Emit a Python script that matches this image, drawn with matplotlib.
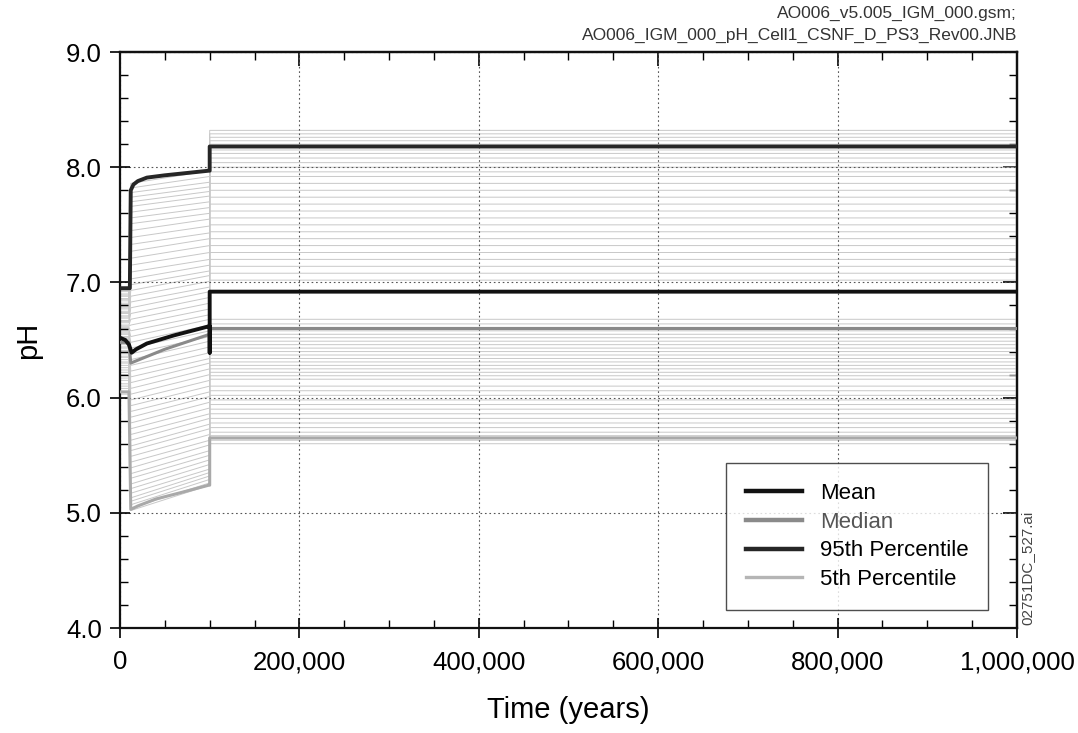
import matplotlib
matplotlib.use("Agg")
import matplotlib.pyplot as plt
from matplotlib.ticker import MultipleLocator, FuncFormatter
from matplotlib.lines import Line2D

plt.rcParams['font.family'] = ['Liberation Sans', 'DejaVu Sans']

# ---------------- data ----------------
# realization time nodes (years)
t_nodes = [0, 10000, 12000, 100000, 100000, 1000000]
# realization values: start level, after early drop/jump, at 100k, final
r_start = [6.03, 6.05, 6.08, 6.10, 6.12, 6.15, 6.17, 6.20, 6.22, 6.24,
           6.26, 6.28, 6.30, 6.31, 6.33, 6.35, 6.36, 6.38, 6.40, 6.41,
           6.43, 6.44, 6.46, 6.47, 6.49, 6.50, 6.51, 6.52, 6.53, 6.55,
           6.56, 6.57, 6.58, 6.60, 6.61, 6.62, 6.63, 6.65, 6.66, 6.67,
           6.69, 6.70, 6.71, 6.73, 6.74, 6.75, 6.77, 6.78, 6.79, 6.81,
           6.82, 6.84, 6.85, 6.86, 6.88, 6.89, 6.90, 6.92, 6.93, 6.95]
r_early = [5.02, 5.04, 5.07, 5.10, 5.13, 5.17, 5.21, 5.25, 5.30, 5.34,
           5.39, 5.44, 5.49, 5.54, 5.58, 5.63, 5.68, 5.73, 5.78, 5.83,
           5.88, 5.93, 5.98, 6.03, 6.08, 6.13, 6.18, 6.23, 6.28, 6.33,
           6.38, 6.43, 6.48, 6.53, 6.58, 6.63, 6.68, 6.73, 6.78, 6.83,
           6.88, 6.93, 6.98, 7.03, 7.09, 7.15, 7.21, 7.27, 7.33, 7.39,
           7.45, 7.51, 7.56, 7.61, 7.66, 7.70, 7.74, 7.78, 7.82, 7.86]
r_late = [5.24, 5.26, 5.29, 5.32, 5.35, 5.38, 5.42, 5.46, 5.50, 5.54,
          5.59, 5.63, 5.68, 5.73, 5.77, 5.82, 5.86, 5.91, 5.96, 6.01,
          6.05, 6.10, 6.15, 6.20, 6.25, 6.30, 6.34, 6.39, 6.44, 6.49,
          6.53, 6.58, 6.63, 6.68, 6.72, 6.77, 6.82, 6.87, 6.92, 6.96,
          7.01, 7.06, 7.10, 7.15, 7.20, 7.26, 7.32, 7.38, 7.43, 7.49,
          7.55, 7.60, 7.65, 7.70, 7.75, 7.79, 7.83, 7.87, 7.92, 7.97]
r_final = [5.60, 5.63, 5.65, 5.67, 5.70, 5.74, 5.78, 5.82, 5.86, 5.90,
           5.94, 5.98, 6.02, 6.06, 6.10, 6.16, 6.19, 6.22, 6.25, 6.28,
           6.31, 6.34, 6.37, 6.40, 6.43, 6.46, 6.49, 6.52, 6.55, 6.58,
           6.61, 6.64, 6.68, 7.02, 7.08, 7.14, 7.20, 7.26, 7.32, 7.38,
           7.44, 7.50, 7.56, 7.62, 7.68, 7.74, 7.80, 7.86, 7.92, 7.96,
           8.00, 8.04, 8.08, 8.12, 8.15, 8.20, 8.23, 8.26, 8.29, 8.32]

# statistics
t_mean = [0, 6000, 10000, 13000, 18000, 30000, 60000, 99500, 100000, 100000, 100000, 1000000]
v_mean = [6.52, 6.50, 6.46, 6.39, 6.42, 6.47, 6.54, 6.62, 6.62, 6.39, 6.92, 6.92]

t_median = [0, 10000, 12000, 50000, 100000, 100000, 1000000]
v_median = [6.48, 6.48, 6.30, 6.42, 6.55, 6.60, 6.60]

t_p95 = [0, 11000, 12000, 15000, 20000, 30000, 50000, 99000, 100000, 100000, 1000000]
v_p95 = [6.95, 6.95, 7.80, 7.85, 7.88, 7.91, 7.93, 7.97, 7.97, 8.18, 8.18]

t_p5 = [0, 10000, 12000, 20000, 40000, 70000, 99000, 100000, 100000, 1000000]
v_p5 = [6.05, 6.05, 5.03, 5.06, 5.12, 5.18, 5.24, 5.24, 5.65, 5.65]

x_ticks = [0, 200000, 400000, 600000, 800000, 1000000]
y_ticks = [4.0, 5.0, 6.0, 7.0, 8.0, 9.0]
legend_labels = ["Mean", "Median", "95th Percentile", "5th Percentile"]

# ---------------- figure ----------------
fig = plt.figure(figsize=(10.78, 7.33), dpi=100)
ax = fig.add_axes([0.1113, 0.1432, 0.8321, 0.7858])

for s, e, l, f in zip(r_start, r_early, r_late, r_final):
    ax.plot(t_nodes, [s, s, e, l, f, f], color='#c8c8c8', lw=0.7, zorder=1)

ax.plot(t_p5, v_p5, color='#a9a9a9', lw=2.2, zorder=3)
ax.plot(t_median, v_median, color='#8a8a8a', lw=2.2, zorder=3)
ax.plot(t_p95, v_p95, color='#262626', lw=2.8, zorder=4)
ax.plot(t_mean, v_mean, color='#111111', lw=2.8, zorder=5)

ax.set_xlim(0, 1000000)
ax.set_ylim(4.0, 9.0)
ax.set_xticks(x_ticks)
ax.set_yticks(y_ticks)
ax.xaxis.set_minor_locator(MultipleLocator(50000))
ax.yaxis.set_minor_locator(MultipleLocator(0.2))
ax.xaxis.set_major_formatter(FuncFormatter(lambda v, p: f"{int(v):,}"))
ax.yaxis.set_major_formatter(FuncFormatter(lambda v, p: f"{v:.1f}"))

ax.grid(True, which='major', color='#555555', lw=0.8, ls=(0, (1.5, 2.5)), zorder=2)

ax.tick_params(which='major', direction='inout', length=14, width=1.2,
               labelsize=18.5, colors='black', pad=6)
ax.tick_params(which='minor', direction='in', length=6, width=1.0)
ax.tick_params(which='both', top=False, right=False)
ax.tick_params(axis='x', which='major', pad=9)

# right and top ticks pointing inward only
secy = ax.secondary_yaxis('right')
secy.set_yticks(y_ticks)
secy.yaxis.set_minor_locator(MultipleLocator(0.2))
secy.tick_params(which='major', direction='in', length=10, width=1.2, labelright=False)
secy.tick_params(which='minor', direction='in', length=6, width=1.0)
secx = ax.secondary_xaxis('top')
secx.set_xticks(x_ticks)
secx.xaxis.set_minor_locator(MultipleLocator(50000))
secx.tick_params(which='major', direction='in', length=10, width=1.2, labeltop=False)
secx.tick_params(which='minor', direction='in', length=6, width=1.0)
for sa in (secx, secy):
    for sp in sa.spines.values():
        sp.set_linewidth(1.6)
        sp.set_color('#111111')

for sp in ax.spines.values():
    sp.set_linewidth(1.6)
    sp.set_color('#111111')

ax.set_xlabel("Time (years)", fontsize=21, labelpad=16)
ax.set_ylabel("pH", fontsize=21, labelpad=17)

handles = [
    Line2D([], [], color='#111111', lw=3.2),
    Line2D([], [], color='#8a8a8a', lw=3.2),
    Line2D([], [], color='#262626', lw=3.2),
    Line2D([], [], color='#b5b5b5', lw=2.4),
]
leg = ax.legend(handles, legend_labels, loc='lower right',
                bbox_to_anchor=(0.968, 0.031), fontsize=16, frameon=True,
                fancybox=False, edgecolor='#222222', handlelength=2.5,
                handletextpad=0.8, labelspacing=0.35, borderpad=0.9,
                borderaxespad=0.0)
leg.get_frame().set_linewidth(1.0)
leg.texts[1].set_color('#555555')

fig.text(0.9434, 0.981, "AO006_v5.005_IGM_000.gsm;", ha='right', va='center',
         fontsize=12.5, color='#333333')
fig.text(0.9434, 0.951, "AO006_IGM_000_pH_Cell1_CSNF_D_PS3_Rev00.JNB", ha='right',
         va='center', fontsize=12.5, color='#333333')
fig.text(0.953, 0.225, "02751DC_527.ai", rotation=90, ha='center', va='center',
         fontsize=11, color='#444444')

fig.savefig("out.png", dpi=100)
